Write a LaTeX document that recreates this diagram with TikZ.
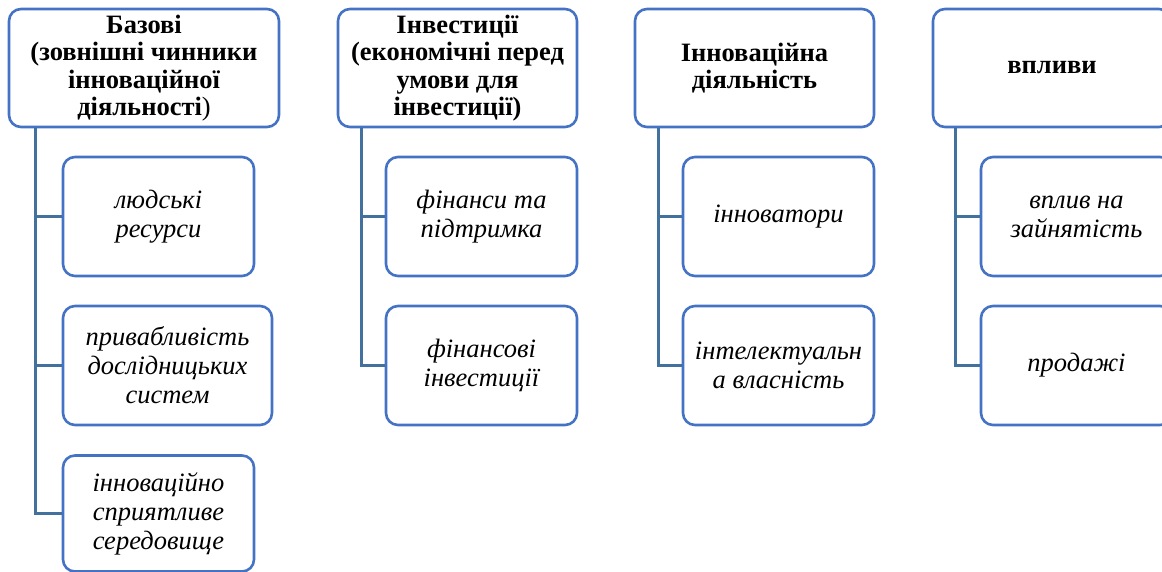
\documentclass[tikz,border=0pt]{standalone}
\usepackage{fontspec}
\setmainfont{Liberation Serif}
\definecolor{boxblue}{HTML}{4472C4}
\definecolor{linkblue}{HTML}{41719C}
\begin{document}
\begin{tikzpicture}[x=1pt,y=-1pt,
  box/.style={draw=boxblue, line width=2.6pt, rounded corners=12pt, fill=white, inner sep=0pt, align=center},
  hdr/.style={box, minimum height=118pt, font=\fontsize{26.5}{27.5}\selectfont\bfseries},
  item/.style={box, minimum height=119pt, font=\fontsize{26.5}{29}\selectfont\itshape},
  conn/.style={draw=linkblue, line width=2.8pt}
]
\useasboundingbox (0,0) rectangle (1162,572);
\clip (0,0) rectangle (1162,572);
% column 1
\node[hdr, minimum width=270pt] (h1) at (144,68) {Базові\\(зовнішні чинники\\інноваційної\\діяльності\textmd{)}};
\node[item, minimum width=191pt] (c1a) at (158.5,216.5) {людські\\ресурси};
\node[item, minimum width=209pt] (c1b) at (167.5,365.5) {привабливість\\дослідницьких\\систем};
\node[item, minimum width=191pt, minimum height=116pt] (c1c) at (158.5,513.5) {інноваційно\\сприятливе\\середовище};
% column 2
\node[hdr, minimum width=239pt] (h2) at (457.5,68) {Інвестиції\\(економічні перед\\умови для\\інвестиції)};
\node[item, minimum width=191pt] (c2a) at (481.5,216.5) {фінанси та\\підтримка};
\node[item, minimum width=191pt] (c2b) at (481.5,365.5) {фінансові\\інвестиції};
% column 3
\node[hdr, minimum width=239pt] (h3) at (754.5,68) {Інноваційна\\діяльність};
\node[item, minimum width=191pt] (c3a) at (778.5,216.5) {інноватори};
\node[item, minimum width=191pt] (c3b) at (778.5,365.5) {інтелектуальн\\а власність};
% column 4
\node[hdr, minimum width=238pt] (h4) at (1052,68) {впливи};
\node[item, minimum width=191pt] (c4a) at (1076.5,216.5) {вплив на\\зайнятість};
\node[item, minimum width=191pt] (c4b) at (1076.5,365.5) {продажі};
% connectors
\coordinate (t1) at ([xshift=28pt]h1.south west);
\coordinate (t2) at ([xshift=25pt]h2.south west);
\coordinate (t3) at ([xshift=25pt]h3.south west);
\coordinate (t4) at ([xshift=24pt]h4.south west);
\draw[conn] (t1) |- (c1a.west);
\draw[conn] (t1) |- (c1b.west);
\draw[conn] (t1) |- (c1c.west);
\draw[conn] (t2) |- (c2a.west);
\draw[conn] (t2) |- (c2b.west);
\draw[conn] (t3) |- (c3a.west);
\draw[conn] (t3) |- (c3b.west);
\draw[conn] (t4) |- (c4a.west);
\draw[conn] (t4) |- (c4b.west);
\end{tikzpicture}
\end{document}
